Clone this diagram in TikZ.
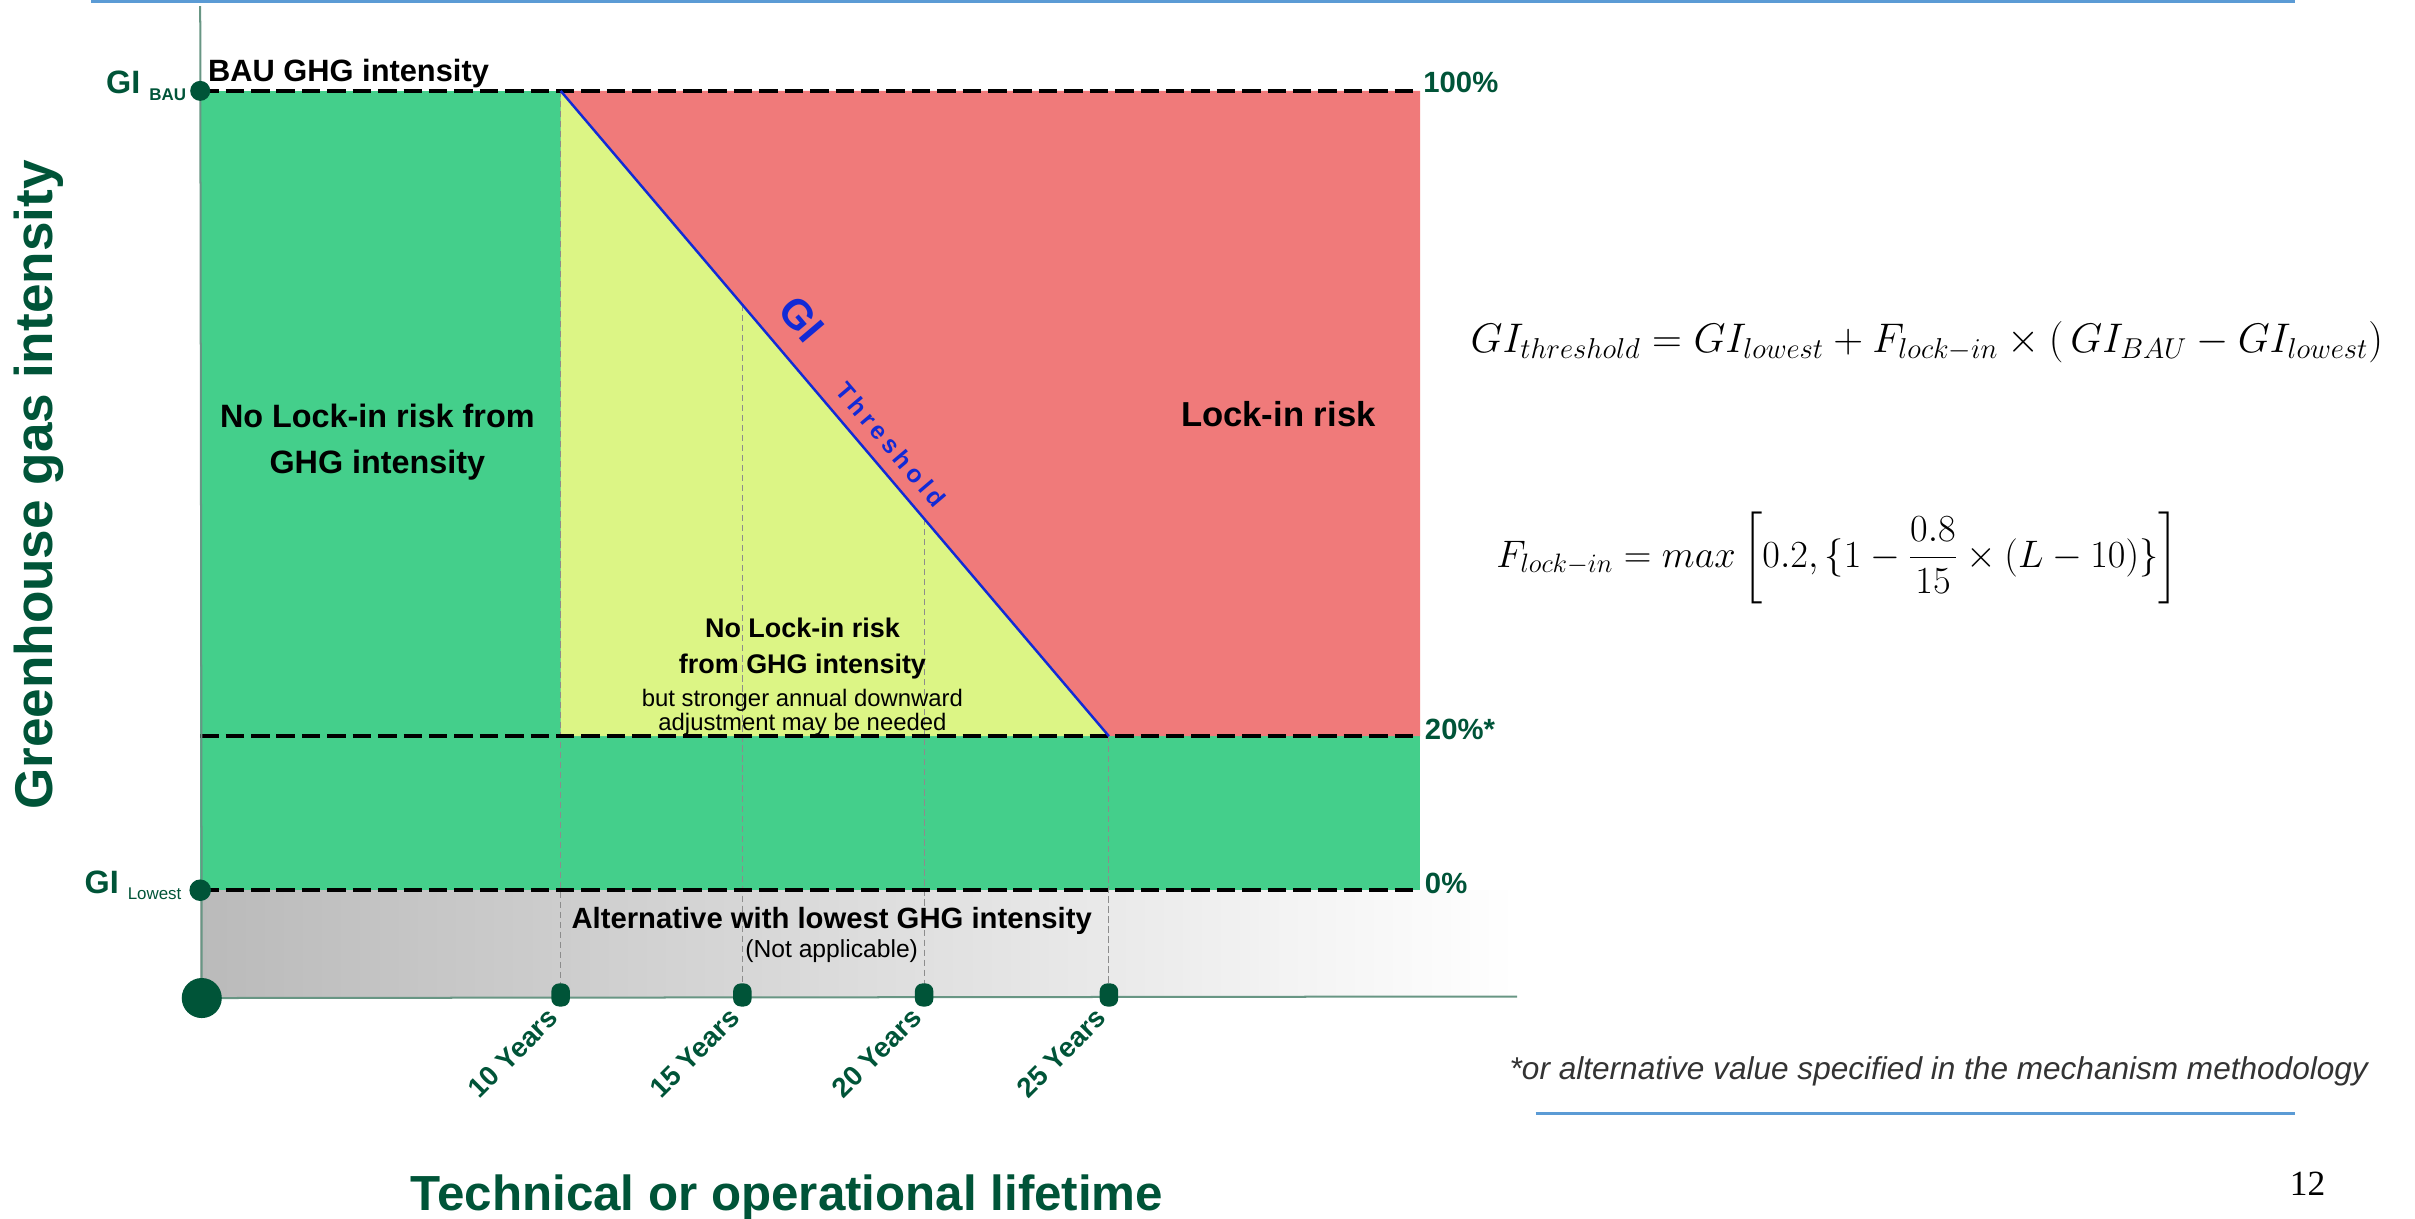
\documentclass[tikz,border=0pt]{standalone}
\usepackage{fontspec}
\setmainfont{Liberation Sans}
\newfontfamily\pagenumfont{Liberation Serif}
\usepackage{amsmath}
\usepackage{graphicx}
\usetikzlibrary{positioning}

\definecolor{safegreen}{RGB}{68,207,139}
\definecolor{lockred}{RGB}{240,122,122}
\definecolor{adjyellow}{RGB}{220,245,133}
\definecolor{darkgreen}{RGB}{0,84,56}
\definecolor{axisgreen}{RGB}{104,150,132}
\definecolor{slideblue}{RGB}{91,155,213}
\definecolor{thrblue}{RGB}{18,42,214}

\newcommand{\fsize}[2]{\fontsize{#1}{#2}\selectfont}

\begin{document}
\begin{tikzpicture}[x=1pt, y=-1pt,
    level/.style={line width=2.6pt, dash pattern=on 12pt off 4.5pt},
    yearline/.style={black!45, line width=0.7pt, dash pattern=on 4pt off 2.5pt},
    tickmark/.style={fill=darkgreen, minimum width=12pt, minimum height=15pt, rounded corners=5pt, inner sep=0pt},
    enddot/.style={fill=darkgreen, circle, inner sep=0pt, minimum size=#1},
    yearlbl/.style={darkgreen, font=\bfseries\fsize{18}{18}, rotate=45, anchor=east, inner sep=0pt},
    pct/.style={darkgreen, font=\bfseries\fsize{19}{19}, anchor=base west, inner sep=0pt},
    zone/.style={font=\bfseries\fsize{21}{30}, align=center, inner sep=0pt},
    eqn/.style={font=\fsize{23}{28}, inner sep=0pt}]
    \useasboundingbox (0,0) rectangle (1568,791);
    % corner points of the zones
    \coordinate (bau) at (130,59);
    \coordinate (low) at (130,578);
    \coordinate (orig) at (131,648);
    \coordinate (ytop) at (130,4);
    \coordinate (xend) at (985,647);
    \coordinate (thrtop) at (364,59);
    \coordinate (thrbot) at (720,478);
    \coordinate (lft20) at (130,478);
    \coordinate (rgt100) at (922,59);
    \coordinate (rgt20) at (922,478);
    \coordinate (rgt0) at (922,578);

    \fill[safegreen] (bau) rectangle (364,478);
    \fill[safegreen] (lft20) rectangle (rgt0);
    \fill[adjyellow] (thrtop) -- (thrbot) -- (364,478) -- cycle;
    \fill[lockred] (thrtop) -- (rgt100) -- (rgt20) -- (thrbot) -- cycle;
    \shade[left color=black!27, right color=white] (low) rectangle (xend);

    \draw[yearline] (364,59) -- (364,647);
    \draw[yearline] (482,198) -- (482,647);
    \draw[yearline] (600,337) -- (600,647);
    \draw[yearline] (720,478) -- (720,647);

    \draw[level] (bau) -- (rgt100);
    \draw[level] (lft20) -- (rgt20);
    \draw[level] (low) -- (rgt0);

    \draw[axisgreen, line width=1.3pt] (ytop) -- (orig) -- (xend);

    \node[enddot=13pt] (bauDot) at (bau) {};
    \node[enddot=14pt] (lowDot) at (low) {};
    \node[enddot=26pt] (origDot) at (orig) {};

    \foreach \x/\yr in {364/10, 482/15, 600/20, 720/25} {
        \node[tickmark] (t\yr) at (\x,646) {};
        \node[yearlbl] (y\yr) at ([xshift=-5pt, yshift=-4pt]t\yr.south) {\yr\ Years};
    }

    \draw[thrblue, line width=1.6pt] (thrtop) -- (thrbot)
        node[pos=0.39, sloped, above=12pt, inner sep=1pt, font=\bfseries\fsize{27}{27}] (giTxt) {GI}
        node[pos=0.571, sloped, above=7pt, inner sep=1pt, font=\bfseries\fsize{16}{16}\addfontfeature{LetterSpace=18}] (thrTxt) {Threshold};

    \node[anchor=base west, inner sep=0pt, font=\bfseries\fsize{20}{20}] (bauTxt) at (135,53) {BAU GHG intensity};
    \node[anchor=base east, inner sep=0pt, darkgreen, font=\bfseries\fsize{21}{21}] (giBau) at (121,61) {GI \raisebox{-4pt}{\fsize{11}{11}BAU}};
    \node[anchor=base east, inner sep=0pt, darkgreen, font=\bfseries\fsize{21}{21}] (giLow) at (118,580) {GI \raisebox{-4pt}{\mdseries\fsize{11}{11}Lowest}};

    \node[pct] (p100) at (924,60) {100\%};
    \node[pct] (p20) at (925,480) {20\%*};
    \node[pct] (p0) at (925,580) {0\%};

    \node[zone] (noRisk) at (245,287) {No Lock-in risk from\\GHG intensity};
    \node[zone, font=\bfseries\fsize{22.5}{30}] (lockRisk) at (830,269) {Lock-in risk};

    \node[anchor=base, inner sep=0pt, font=\bfseries\fsize{17.5}{17.5}] (adj1) at (521,414) {No Lock-in risk};
    \node[anchor=base, inner sep=0pt, font=\bfseries\fsize{17.5}{17.5}] (adj2) at (521,437) {from GHG intensity};
    \node[anchor=base, inner sep=0pt, font=\fsize{15.5}{15.5}] (adj3) at (521,459) {but stronger annual downward};
    \node[anchor=base, inner sep=0pt, font=\fsize{15.5}{15.5}] (adj4) at (521,474) {adjustment may be needed};

    \node[anchor=base, inner sep=0pt, font=\bfseries\fsize{19}{19}] (altTxt) at (540,603) {Alternative with lowest GHG intensity};
    \node[anchor=base, inner sep=0pt, font=\fsize{16}{16}] (naTxt) at (540,622) {(Not applicable)};

    \node[rotate=90, darkgreen, font=\bfseries\fsize{34.5}{34.5}] (yLbl) at (25,315) {Greenhouse gas intensity};
    \node[anchor=base, inner sep=0pt, darkgreen, font=\bfseries\fsize{32}{32}] (xLbl) at (511,786) {Technical or operational lifetime};

    \node[eqn] (eqThr) at (1251,222) {\scalebox{1.08}{$GI_{threshold} = GI_{lowest} + F_{lock-in} \times (\,GI_{BAU} - GI_{lowest})$}};
    \node[eqn] (eqLock) at (1193,362) {$F_{lock-in} = max\left[0.2, \{1-\dfrac{0.8}{15}\times(L-10)\}\right]$};

    \node[anchor=base west, inner sep=0pt, black!80, font=\itshape\fsize{20.5}{20.5}] (note) at (980,701) {*or alternative value specified in the mechanism methodology};
    \node[anchor=base east, inner sep=0pt, font=\pagenumfont\fsize{23}{23}] (pageNo) at (1510,776) {12};

    \draw[slideblue, line width=2pt] (59,1) -- (1490,1);
    \draw[slideblue, line width=2pt] (997,723) -- (1490,723);
\end{tikzpicture}
\end{document}
